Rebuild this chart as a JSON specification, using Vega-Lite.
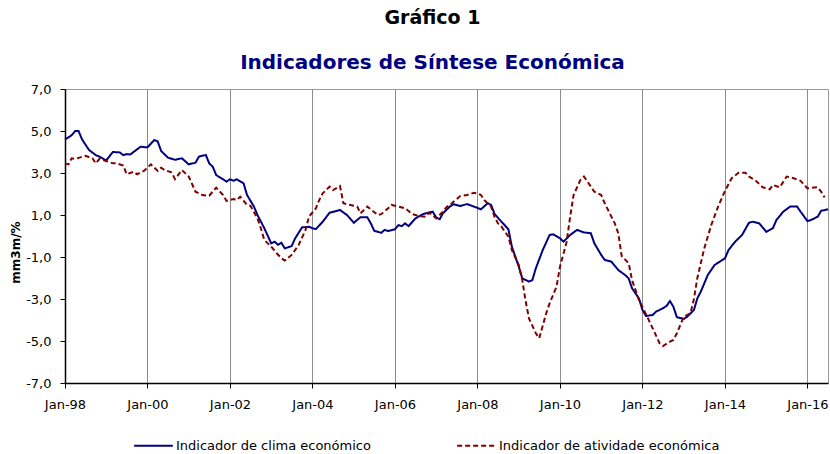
{
  "$schema": "https://vega.github.io/schema/vega-lite/v6.json",
  "width": 763,
  "height": 294,
  "autosize": {"type": "none"},
  "padding": {"left": 65, "top": 89, "right": 2, "bottom": 71},
  "background": "white",
  "title": {
    "text": "Gráfico 1",
    "subtitle": "Indicadores de Síntese Económica",
    "anchor": "middle",
    "frame": "group",
    "dx": -14,
    "offset": 10,
    "font": "DejaVu Sans",
    "fontSize": 19,
    "fontWeight": "bold",
    "color": "#000000",
    "subtitleFont": "DejaVu Sans",
    "subtitleFontSize": 20,
    "subtitleFontWeight": "bold",
    "subtitleColor": "#000080",
    "subtitlePadding": 25
  },
  "data": {
    "values": [
      {"d":"1998-01-01","s":"c","v":4.6},{"d":"1998-02-01","s":"c","v":4.7},{"d":"1998-03-01","s":"c","v":4.8},{"d":"1998-04-01","s":"c","v":5.0},{"d":"1998-05-01","s":"c","v":5.0},{"d":"1998-06-01","s":"c","v":4.6},{"d":"1998-08-01","s":"c","v":4.1},{"d":"1998-10-01","s":"c","v":3.85},{"d":"1998-11-01","s":"c","v":3.78},
      {"d":"1999-01-01","s":"c","v":3.6},{"d":"1999-03-01","s":"c","v":4.0},{"d":"1999-05-01","s":"c","v":3.98},{"d":"1999-06-01","s":"c","v":3.85},{"d":"1999-07-01","s":"c","v":3.9},{"d":"1999-08-01","s":"c","v":3.88},{"d":"1999-11-01","s":"c","v":4.25},
      {"d":"2000-01-01","s":"c","v":4.22},{"d":"2000-03-01","s":"c","v":4.57},{"d":"2000-04-01","s":"c","v":4.5},{"d":"2000-05-01","s":"c","v":4.05},{"d":"2000-07-01","s":"c","v":3.73},{"d":"2000-09-01","s":"c","v":3.63},{"d":"2000-11-01","s":"c","v":3.7},
      {"d":"2001-01-01","s":"c","v":3.41},{"d":"2001-03-01","s":"c","v":3.49},{"d":"2001-04-01","s":"c","v":3.78},{"d":"2001-06-01","s":"c","v":3.86},{"d":"2001-07-01","s":"c","v":3.46},{"d":"2001-08-01","s":"c","v":3.3},{"d":"2001-09-01","s":"c","v":2.9},{"d":"2001-11-01","s":"c","v":2.7},{"d":"2001-12-01","s":"c","v":2.59},
      {"d":"2002-01-01","s":"c","v":2.7},{"d":"2002-02-01","s":"c","v":2.63},{"d":"2002-03-01","s":"c","v":2.7},{"d":"2002-05-01","s":"c","v":2.51},{"d":"2002-06-01","s":"c","v":1.95},{"d":"2002-08-01","s":"c","v":1.4},{"d":"2002-09-01","s":"c","v":1.0},{"d":"2002-11-01","s":"c","v":0.37},
      {"d":"2003-01-01","s":"c","v":-0.35},{"d":"2003-02-01","s":"c","v":-0.27},{"d":"2003-03-01","s":"c","v":-0.42},{"d":"2003-04-01","s":"c","v":-0.32},{"d":"2003-05-01","s":"c","v":-0.59},{"d":"2003-07-01","s":"c","v":-0.48},{"d":"2003-08-01","s":"c","v":-0.11},{"d":"2003-10-01","s":"c","v":0.41},{"d":"2003-12-01","s":"c","v":0.44},
      {"d":"2004-01-01","s":"c","v":0.37},{"d":"2004-02-01","s":"c","v":0.33},{"d":"2004-04-01","s":"c","v":0.68},{"d":"2004-06-01","s":"c","v":1.11},{"d":"2004-09-01","s":"c","v":1.24},{"d":"2004-11-01","s":"c","v":1.0},
      {"d":"2005-01-01","s":"c","v":0.63},{"d":"2005-03-01","s":"c","v":0.89},{"d":"2005-05-01","s":"c","v":0.89},{"d":"2005-06-01","s":"c","v":0.6},{"d":"2005-07-01","s":"c","v":0.25},{"d":"2005-09-01","s":"c","v":0.15},{"d":"2005-10-01","s":"c","v":0.29},{"d":"2005-11-01","s":"c","v":0.24},
      {"d":"2006-01-01","s":"c","v":0.32},{"d":"2006-02-01","s":"c","v":0.52},{"d":"2006-03-01","s":"c","v":0.47},{"d":"2006-04-01","s":"c","v":0.6},{"d":"2006-05-01","s":"c","v":0.47},{"d":"2006-07-01","s":"c","v":0.84},{"d":"2006-09-01","s":"c","v":1.03},{"d":"2006-10-01","s":"c","v":1.08},{"d":"2006-12-01","s":"c","v":1.16},
      {"d":"2007-01-01","s":"c","v":0.88},{"d":"2007-02-01","s":"c","v":0.8},{"d":"2007-03-01","s":"c","v":1.08},{"d":"2007-05-01","s":"c","v":1.4},{"d":"2007-06-01","s":"c","v":1.51},{"d":"2007-08-01","s":"c","v":1.43},{"d":"2007-10-01","s":"c","v":1.52},{"d":"2007-12-01","s":"c","v":1.4},
      {"d":"2008-02-01","s":"c","v":1.27},{"d":"2008-04-01","s":"c","v":1.56},{"d":"2008-05-01","s":"c","v":1.48},{"d":"2008-06-01","s":"c","v":1.05},{"d":"2008-08-01","s":"c","v":0.68},{"d":"2008-10-01","s":"c","v":0.32},{"d":"2008-11-01","s":"c","v":-0.51},
      {"d":"2009-01-01","s":"c","v":-1.46},{"d":"2009-02-01","s":"c","v":-2.02},{"d":"2009-04-01","s":"c","v":-2.17},{"d":"2009-05-01","s":"c","v":-2.1},{"d":"2009-06-01","s":"c","v":-1.54},{"d":"2009-08-01","s":"c","v":-0.67},{"d":"2009-10-01","s":"c","v":0.05},{"d":"2009-11-01","s":"c","v":0.08},
      {"d":"2010-01-01","s":"c","v":-0.11},{"d":"2010-02-01","s":"c","v":-0.27},{"d":"2010-04-01","s":"c","v":0.05},{"d":"2010-06-01","s":"c","v":0.29},{"d":"2010-08-01","s":"c","v":0.17},{"d":"2010-10-01","s":"c","v":0.13},{"d":"2010-11-01","s":"c","v":-0.35},
      {"d":"2011-01-01","s":"c","v":-0.9},{"d":"2011-02-01","s":"c","v":-1.14},{"d":"2011-04-01","s":"c","v":-1.22},{"d":"2011-06-01","s":"c","v":-1.62},{"d":"2011-08-01","s":"c","v":-1.86},{"d":"2011-09-01","s":"c","v":-2.02},{"d":"2011-10-01","s":"c","v":-2.49},{"d":"2011-12-01","s":"c","v":-2.97},
      {"d":"2012-01-01","s":"c","v":-3.52},{"d":"2012-02-01","s":"c","v":-3.81},{"d":"2012-04-01","s":"c","v":-3.76},{"d":"2012-05-01","s":"c","v":-3.6},{"d":"2012-07-01","s":"c","v":-3.44},{"d":"2012-08-01","s":"c","v":-3.33},{"d":"2012-09-01","s":"c","v":-3.1},{"d":"2012-10-01","s":"c","v":-3.37},{"d":"2012-11-01","s":"c","v":-3.87},
      {"d":"2013-01-01","s":"c","v":-3.95},{"d":"2013-02-01","s":"c","v":-3.84},{"d":"2013-04-01","s":"c","v":-3.52},{"d":"2013-05-01","s":"c","v":-2.97},{"d":"2013-06-01","s":"c","v":-2.65},{"d":"2013-08-01","s":"c","v":-1.86},{"d":"2013-10-01","s":"c","v":-1.38},
      {"d":"2014-01-01","s":"c","v":-1.06},{"d":"2014-02-01","s":"c","v":-0.67},{"d":"2014-04-01","s":"c","v":-0.27},{"d":"2014-06-01","s":"c","v":0.05},{"d":"2014-08-01","s":"c","v":0.63},{"d":"2014-09-01","s":"c","v":0.68},{"d":"2014-11-01","s":"c","v":0.6},
      {"d":"2015-01-01","s":"c","v":0.2},{"d":"2015-03-01","s":"c","v":0.37},{"d":"2015-04-01","s":"c","v":0.76},{"d":"2015-06-01","s":"c","v":1.16},{"d":"2015-08-01","s":"c","v":1.4},{"d":"2015-10-01","s":"c","v":1.4},{"d":"2015-11-01","s":"c","v":1.16},
      {"d":"2016-01-01","s":"c","v":0.71},{"d":"2016-02-01","s":"c","v":0.76},{"d":"2016-04-01","s":"c","v":0.92},{"d":"2016-05-01","s":"c","v":1.2},{"d":"2016-07-01","s":"c","v":1.27},

      {"d":"1998-01-01","s":"a","v":3.46},{"d":"1998-02-01","s":"a","v":3.41},{"d":"1998-03-01","s":"a","v":3.7},{"d":"1998-04-01","s":"a","v":3.67},{"d":"1998-07-01","s":"a","v":3.82},{"d":"1998-09-01","s":"a","v":3.7},{"d":"1998-10-01","s":"a","v":3.46},{"d":"1998-11-01","s":"a","v":3.67},
      {"d":"1999-01-01","s":"a","v":3.57},{"d":"1999-03-01","s":"a","v":3.46},{"d":"1999-04-01","s":"a","v":3.46},{"d":"1999-06-01","s":"a","v":3.35},{"d":"1999-07-01","s":"a","v":2.94},{"d":"1999-09-01","s":"a","v":3.06},{"d":"1999-10-01","s":"a","v":2.94},{"d":"1999-11-01","s":"a","v":3.03},{"d":"1999-12-01","s":"a","v":3.1},
      {"d":"2000-02-01","s":"a","v":3.41},{"d":"2000-04-01","s":"a","v":3.1},{"d":"2000-05-01","s":"a","v":3.25},{"d":"2000-06-01","s":"a","v":3.14},{"d":"2000-08-01","s":"a","v":3.03},{"d":"2000-09-01","s":"a","v":2.71},{"d":"2000-11-01","s":"a","v":3.14},
      {"d":"2001-01-01","s":"a","v":2.83},{"d":"2001-03-01","s":"a","v":2.11},{"d":"2001-05-01","s":"a","v":1.95},{"d":"2001-07-01","s":"a","v":1.92},{"d":"2001-09-01","s":"a","v":2.3},{"d":"2001-11-01","s":"a","v":1.95},{"d":"2001-12-01","s":"a","v":1.67},
      {"d":"2002-02-01","s":"a","v":1.76},{"d":"2002-03-01","s":"a","v":1.71},{"d":"2002-04-01","s":"a","v":1.87},{"d":"2002-06-01","s":"a","v":1.48},{"d":"2002-07-01","s":"a","v":1.44},{"d":"2002-09-01","s":"a","v":0.84},{"d":"2002-10-01","s":"a","v":0.37},{"d":"2002-11-01","s":"a","v":-0.19},
      {"d":"2003-01-01","s":"a","v":-0.51},{"d":"2003-03-01","s":"a","v":-0.88},{"d":"2003-04-01","s":"a","v":-1.06},{"d":"2003-05-01","s":"a","v":-1.17},{"d":"2003-07-01","s":"a","v":-0.9},{"d":"2003-09-01","s":"a","v":-0.43},{"d":"2003-11-01","s":"a","v":0.29},{"d":"2003-12-01","s":"a","v":0.92},
      {"d":"2004-02-01","s":"a","v":1.32},{"d":"2004-03-01","s":"a","v":1.71},{"d":"2004-04-01","s":"a","v":2.03},{"d":"2004-06-01","s":"a","v":2.35},{"d":"2004-07-01","s":"a","v":2.19},{"d":"2004-09-01","s":"a","v":2.38},{"d":"2004-10-01","s":"a","v":1.56},{"d":"2004-12-01","s":"a","v":1.48},
      {"d":"2005-02-01","s":"a","v":1.4},{"d":"2005-03-01","s":"a","v":1.08},{"d":"2005-05-01","s":"a","v":1.4},{"d":"2005-06-01","s":"a","v":1.27},{"d":"2005-08-01","s":"a","v":1.0},{"d":"2005-09-01","s":"a","v":1.04},{"d":"2005-11-01","s":"a","v":1.32},{"d":"2005-12-01","s":"a","v":1.48},
      {"d":"2006-02-01","s":"a","v":1.4},{"d":"2006-04-01","s":"a","v":1.32},{"d":"2006-06-01","s":"a","v":1.05},{"d":"2006-08-01","s":"a","v":0.95},{"d":"2006-10-01","s":"a","v":0.92},{"d":"2006-11-01","s":"a","v":1.11},
      {"d":"2007-01-01","s":"a","v":0.84},{"d":"2007-03-01","s":"a","v":1.16},{"d":"2007-04-01","s":"a","v":1.37},{"d":"2007-05-01","s":"a","v":1.48},{"d":"2007-08-01","s":"a","v":1.9},{"d":"2007-10-01","s":"a","v":1.95},{"d":"2007-12-01","s":"a","v":2.06},
      {"d":"2008-01-01","s":"a","v":2.03},{"d":"2008-02-01","s":"a","v":1.95},{"d":"2008-03-01","s":"a","v":1.71},{"d":"2008-05-01","s":"a","v":1.4},{"d":"2008-06-01","s":"a","v":0.9},{"d":"2008-07-01","s":"a","v":0.6},{"d":"2008-08-01","s":"a","v":0.44},{"d":"2008-10-01","s":"a","v":-0.03},{"d":"2008-11-01","s":"a","v":-0.67},
      {"d":"2009-01-01","s":"a","v":-1.38},{"d":"2009-02-01","s":"a","v":-2.1},{"d":"2009-03-01","s":"a","v":-3.05},{"d":"2009-04-01","s":"a","v":-3.92},{"d":"2009-06-01","s":"a","v":-4.63},{"d":"2009-07-01","s":"a","v":-4.87},{"d":"2009-09-01","s":"a","v":-3.68},{"d":"2009-10-01","s":"a","v":-3.21},{"d":"2009-12-01","s":"a","v":-2.41},
      {"d":"2010-01-01","s":"a","v":-1.46},{"d":"2010-03-01","s":"a","v":-0.27},{"d":"2010-04-01","s":"a","v":0.92},{"d":"2010-05-01","s":"a","v":1.95},{"d":"2010-07-01","s":"a","v":2.67},{"d":"2010-08-01","s":"a","v":2.83},{"d":"2010-09-01","s":"a","v":2.59},{"d":"2010-11-01","s":"a","v":2.11},
      {"d":"2011-01-01","s":"a","v":1.95},{"d":"2011-02-01","s":"a","v":1.56},{"d":"2011-04-01","s":"a","v":0.92},{"d":"2011-05-01","s":"a","v":0.6},{"d":"2011-06-01","s":"a","v":0.13},{"d":"2011-07-01","s":"a","v":-0.95},{"d":"2011-09-01","s":"a","v":-1.3},{"d":"2011-10-01","s":"a","v":-2.1},{"d":"2011-12-01","s":"a","v":-3.05},
      {"d":"2012-02-01","s":"a","v":-3.72},{"d":"2012-04-01","s":"a","v":-4.4},{"d":"2012-06-01","s":"a","v":-5.11},{"d":"2012-07-01","s":"a","v":-5.24},{"d":"2012-09-01","s":"a","v":-5.03},{"d":"2012-10-01","s":"a","v":-4.95},{"d":"2012-11-01","s":"a","v":-4.63},
      {"d":"2013-01-01","s":"a","v":-3.84},{"d":"2013-03-01","s":"a","v":-3.68},{"d":"2013-04-01","s":"a","v":-3.0},{"d":"2013-05-01","s":"a","v":-2.0},{"d":"2013-07-01","s":"a","v":-0.6},{"d":"2013-09-01","s":"a","v":0.52},{"d":"2013-11-01","s":"a","v":1.4},
      {"d":"2014-01-01","s":"a","v":2.15},{"d":"2014-03-01","s":"a","v":2.75},{"d":"2014-05-01","s":"a","v":3.01},{"d":"2014-07-01","s":"a","v":3.01},{"d":"2014-08-01","s":"a","v":2.83},{"d":"2014-10-01","s":"a","v":2.63},{"d":"2014-12-01","s":"a","v":2.32},
      {"d":"2015-02-01","s":"a","v":2.22},{"d":"2015-03-01","s":"a","v":2.43},{"d":"2015-05-01","s":"a","v":2.32},{"d":"2015-07-01","s":"a","v":2.83},{"d":"2015-09-01","s":"a","v":2.75},{"d":"2015-11-01","s":"a","v":2.63},
      {"d":"2016-01-01","s":"a","v":2.27},{"d":"2016-04-01","s":"a","v":2.32},{"d":"2016-05-01","s":"a","v":2.11},{"d":"2016-06-01","s":"a","v":1.84}
    ]
  },
  "mark": {"type": "line", "strokeWidth": 2, "interpolate": "linear"},
  "encoding": {
    "x": {
      "field": "d",
      "type": "temporal",
      "scale": {"domain": ["1998-01-01", "2016-07-01"], "nice": false},
      "axis": {
        "title": null,
        "format": "%b-%y",
        "values": ["1998-01-01", "2000-01-01", "2002-01-01", "2004-01-01", "2006-01-01", "2008-01-01", "2010-01-01", "2012-01-01", "2014-01-01", "2016-01-01"],
        "grid": true,
        "gridColor": "#8c8c8c",
        "gridWidth": 1,
        "domainColor": "#000000",
        "domainWidth": 1.5,
        "tickColor": "#000000",
        "tickSize": 5,
        "labelFont": "DejaVu Sans",
        "labelFontSize": 13,
        "labelColor": "#000000",
        "labelPadding": 10,
        "labelFlush": false
      }
    },
    "y": {
      "field": "v",
      "type": "quantitative",
      "scale": {"domain": [-7, 7], "nice": false, "zero": false},
      "axis": {
        "title": "mm3m/%",
        "titleFont": "DejaVu Sans",
        "titleFontSize": 12,
        "titleFontWeight": "bold",
        "titleColor": "#000000",
        "titleX": -50,
        "titleY": 163,
        "titleAngle": -90,
        "titleAlign": "center",
        "titleBaseline": "middle",
        "values": [-7, -5, -3, -1, 1, 3, 5, 7],
        "labelExpr": "replace(replace(format(datum.value, '.1f'), '.', ','), '\u2212', '-')",
        "grid": false,
        "domainColor": "#000000",
        "domainWidth": 1.5,
        "tickColor": "#000000",
        "tickSize": 5,
        "labelFont": "DejaVu Sans",
        "labelFontSize": 13,
        "labelColor": "#000000",
        "labelPadding": 9
      }
    },
    "color": {
      "field": "s",
      "type": "nominal",
      "scale": {"domain": ["c", "a"], "range": ["#000080", "#800000"]},
      "legend": {
        "title": null,
        "orient": "none",
        "direction": "horizontal",
        "legendX": 68,
        "legendY": 336,
        "symbolType": "stroke",
        "symbolSize": 1500,
        "symbolStrokeWidth": 2,
        "labelFont": "DejaVu Sans",
        "labelFontSize": 13,
        "labelColor": "#000000",
        "labelOffset": 2,
        "labelLimit": 400,
        "columnPadding": 82,
        "labelExpr": "datum.label === 'c' ? 'Indicador de clima económico' : 'Indicador de atividade económica'"
      }
    },
    "strokeDash": {
      "field": "s",
      "type": "nominal",
      "scale": {"domain": ["c", "a"], "range": [[1, 0], [5, 3]]},
      "legend": {
        "title": null,
        "orient": "none",
        "direction": "horizontal",
        "legendX": 68,
        "legendY": 336,
        "symbolType": "stroke",
        "symbolSize": 1500,
        "symbolStrokeWidth": 2,
        "labelFont": "DejaVu Sans",
        "labelFontSize": 13,
        "labelColor": "#000000",
        "labelOffset": 2,
        "labelLimit": 400,
        "columnPadding": 82,
        "labelExpr": "datum.label === 'c' ? 'Indicador de clima económico' : 'Indicador de atividade económica'"
      }
    }
  },
  "config": {
    "view": {"stroke": "#9a9a9a", "strokeWidth": 1}
  }
}
